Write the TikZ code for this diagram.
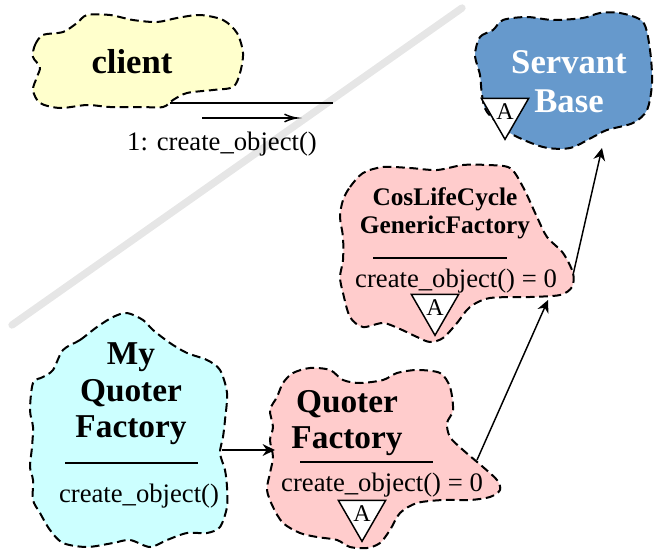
\documentclass[tikz,border=0pt]{standalone}
\usepackage{fontspec}
\setmainfont{Liberation Serif}
\usetikzlibrary{shapes.geometric}

\tikzset{every picture/.style={line width=0.75pt}}
\tikzset{
  classcloud/.style={draw, line width=1.5pt, dash pattern=on 6.5pt off 3.5pt},
  classname/.style={align=center, inner sep=0pt, font=\fontsize{25}{27.5}\selectfont\bfseries},
  smallname/.style={align=center, inner sep=0pt, font=\fontsize{19}{21}\selectfont\bfseries},
  opname/.style={inner sep=0pt, font=\fontsize{20}{24}\selectfont},
  abstractmark/.style={draw, fill=white, line width=1.1pt, regular polygon, regular polygon sides=3,
    shape border rotate=180, inner sep=0pt, minimum size=41pt, font=\fontsize{18}{18}\selectfont},
  sepline/.style={line width=1.4pt},
  connector/.style={line width=1.1pt},
}

\begin{document}
\begin{tikzpicture}[x=0.75pt,y=0.75pt,yscale=-1,xscale=1]
	\useasboundingbox (0,0) rectangle (657,550);

	%Straight Lines (grey divider)
	\draw [color={rgb, 255:red, 230; green, 230; blue, 230 }, line width=5.5pt, line cap=round] (462,8) -- (12,325) ;

	%Shape: Cloud [client]
	\draw [classcloud, fill={rgb, 255:red, 255; green, 255; blue, 204 }] plot [smooth cycle] coordinates {
		(33,57) (35,45) (43,35) (63,32) (77,23) (87,15) (110,15) (133,20) (157,22) (177,18) (200,15) (223,20)
		(237,33) (243,53) (240,73) (233,87) (213,90) (187,93) (173,100) (163,107) (140,107) (110,107)
		(87,105) (60,108) (40,103) (33,90) (37,77) (40,67) } ;
	%Shape: Cloud [ServantBase]
	\draw [classcloud, fill={rgb, 255:red, 102; green, 153; blue, 204 }] plot [smooth cycle] coordinates {
		(475,55) (480,37) (493,30) (503,20) (527,17) (553,20) (583,18) (600,13) (620,13) (643,22) (650,50)
		(652,83) (647,110) (633,123) (607,130) (593,137) (570,148) (543,147) (510,133) (487,112)
		(482,95) (480,75) } ;
	%Shape: Cloud [CosLifeCycle GenericFactory]
	\draw [classcloud, fill={rgb, 255:red, 255; green, 204; blue, 204 }] plot [smooth cycle] coordinates {
		(343,200) (350,187) (363,173) (383,167) (410,168) (437,170) (463,165) (487,165) (510,168) (523,187)
		(537,217) (547,237) (563,253) (573,273) (572,287) (560,295) (530,297) (490,298) (470,307) (457,323)
		(443,338) (430,342) (417,337) (400,329) (383,323) (363,327) (350,317) (343,293) (340,277) (343,260)
		(343,237) (340,217) } ;
	%Shape: Cloud [MyQuoterFactory]
	\draw [classcloud, fill={rgb, 255:red, 204; green, 255; blue, 255 }] plot [smooth cycle] coordinates {
		(63,350) (80,340) (97,327) (113,317) (127,313) (143,320) (153,330) (170,343) (187,353) (207,360)
		(220,370) (227,393) (225,420) (223,437) (220,453) (225,470) (227,487) (227,507) (220,527) (207,533)
		(187,533) (167,540) (150,547) (130,540) (113,543) (87,547) (63,543) (50,530) (40,513) (33,500)
		(33,480) (30,467) (32,447) (33,427) (30,410) (33,383) (43,377) (53,370) } ;
	%Shape: Cloud [QuoterFactory]
	\draw [classcloud, fill={rgb, 255:red, 255; green, 204; blue, 204 }] plot [smooth cycle] coordinates {
		(283,383) (293,373) (310,368) (330,370) (343,380) (360,383) (383,380) (397,373) (417,370) (440,373)
		(450,387) (453,410) (447,423) (450,437) (463,450) (483,467) (497,480) (500,490) (490,497) (470,500)
		(443,500) (417,503) (400,513) (390,530) (380,543) (367,548) (350,547) (337,540) (317,537) (300,533)
		(283,523) (273,507) (267,490) (270,473) (273,457) (270,440) (273,427) (270,410) (277,397) } ;

	%Straight Lines (class separators)
	\draw [sepline] (373,258) -- (507,258) ;
	\draw [sepline] (65,463) -- (198,463) ;
	\draw [sepline] (300,462) -- (433,462) ;

	% Text Node
	\node [classname, font=\fontsize{26}{29}\selectfont\bfseries] (clientName) at (132,62) {client};
	% Text Node
	\node [classname, font=\fontsize{26}{29}\selectfont\bfseries, text=white] (sbName) at (569,82) {Servant\\Base};
	% Text Node
	\node [smallname] (clgfName) at (445,213) {CosLifeCycle\\GenericFactory};
	% Text Node
	\node [opname] (clgfOp) at (456,281) {create\_object() = 0};
	% Text Node
	\node [classname] (mqfName) at (131,394) {My\\Quoter\\Factory};
	% Text Node
	\node [opname] (mqfOp) at (139,496) {create\_object()};
	% Text Node
	\node [classname] (qfName) at (347,423) {Quoter\\Factory};
	% Text Node
	\node [opname] (qfOp) at (382,485) {create\_object() = 0};
	% Text Node
	\node [opname] (callLabel) at (222,144) {1: create\_object()};

	% Abstract marks
	\node [abstractmark] (sbMark) at (505,112) {A};
	\node [abstractmark] (clgfMark) at (435,308) {A};
	\node [abstractmark] (qfMark) at (362,514) {A};

	% Link ends
	\coordinate (clientLinkA) at (170,103);
	\coordinate (clientLinkB) at (333,103);
	\coordinate (callTail) at (202,118);
	\coordinate (callTip) at (297,118);
	\coordinate (mqfOut) at (222,450);
	\coordinate (qfIn) at (275,450);
	\coordinate (qfOut) at (477,460);
	\coordinate (clgfIn) at (548,300);
	\coordinate (clgfOut) at (573,275);
	\coordinate (sbIn) at (602,148);

	%Straight Lines
	\draw [connector] (clientLinkA) -- (clientLinkB) ;
	%Straight Lines
	\draw [connector, shorten >=1.5pt] (callTail) -- (callTip) ;
	\draw [shift={(callTip)}, rotate = 180] [line width=1.1pt] (12.5,-3.8) .. controls (7.95,-1.6) and (3.8,-0.35) .. (0,0) .. controls (3.8,0.35) and (7.95,1.6) .. (12.5,3.8) ;
	%Straight Lines
	\draw [connector, shorten >=2pt] (mqfOut) -- (qfIn) ;
	\draw [shift={(qfIn)}, rotate = 180] [fill={rgb, 255:red, 0; green, 0; blue, 0 }  ][line width=0.08]  [draw opacity=0] (12.5,-6) -- (0,0) -- (12.5,6) -- (8.3,0) -- cycle    ;
	%Straight Lines
	\draw [connector, shorten >=2pt] (qfOut) -- (clgfIn) ;
	\draw [shift={(clgfIn)}, rotate = 113.93] [fill={rgb, 255:red, 0; green, 0; blue, 0 }  ][line width=0.08]  [draw opacity=0] (12.5,-6) -- (0,0) -- (12.5,6) -- (8.3,0) -- cycle    ;
	%Straight Lines
	\draw [connector, shorten >=2pt] (clgfOut) -- (sbIn) ;
	\draw [shift={(sbIn)}, rotate = 102.86] [fill={rgb, 255:red, 0; green, 0; blue, 0 }  ][line width=0.08]  [draw opacity=0] (12.5,-6) -- (0,0) -- (12.5,6) -- (8.3,0) -- cycle    ;

\end{tikzpicture}
\end{document}
